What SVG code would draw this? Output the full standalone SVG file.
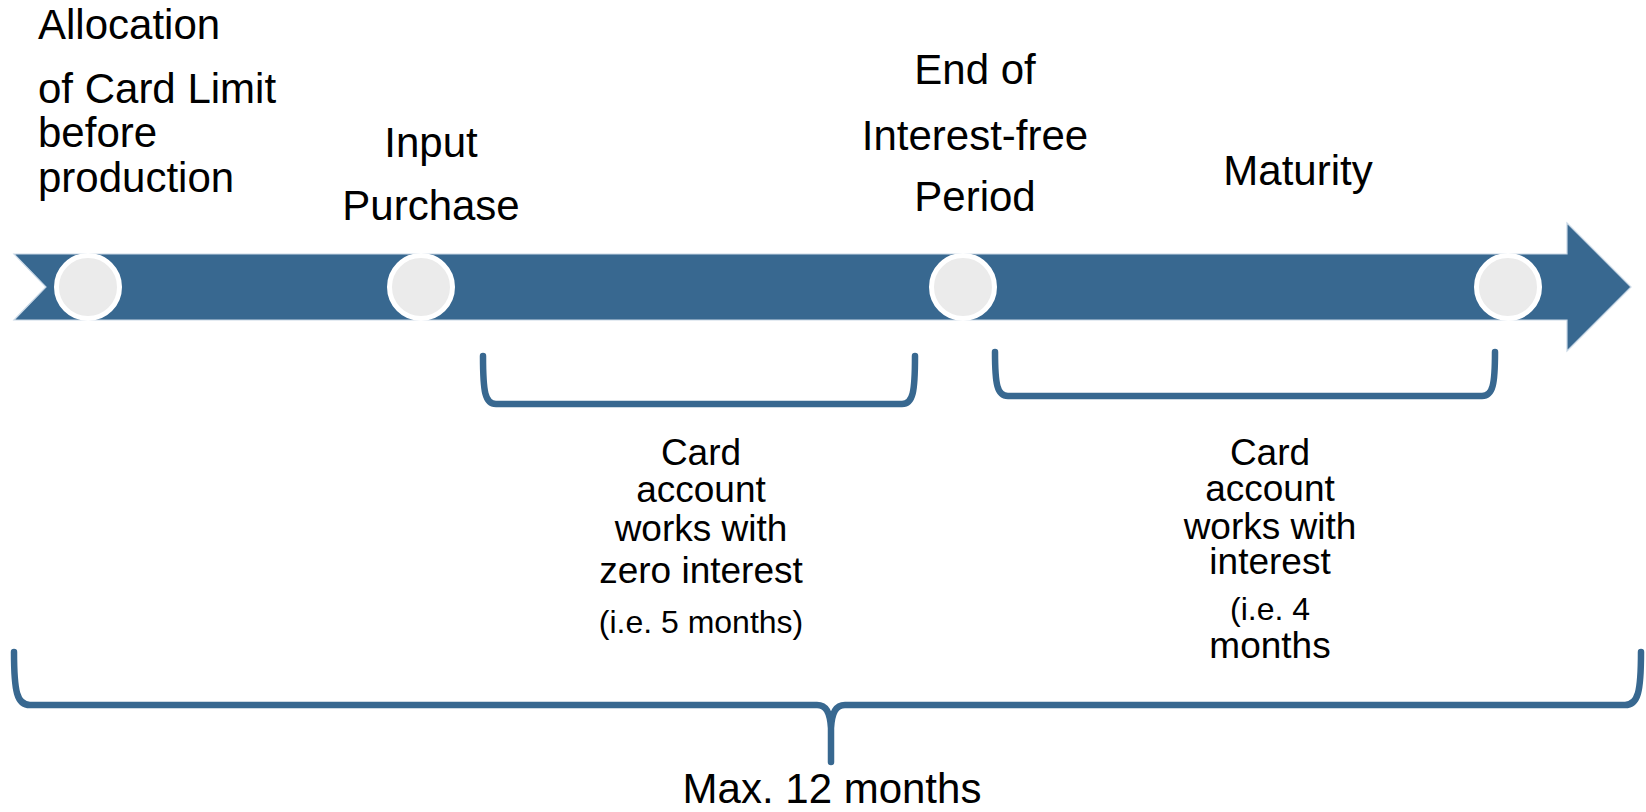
<svg xmlns="http://www.w3.org/2000/svg" width="1646" height="812" viewBox="0 0 1646 812">
<style>
text{font-family:"Liberation Sans",Arial,sans-serif;fill:#000}
.t{font-size:42px}
.b{font-size:37px;text-anchor:middle}
.s{font-size:32px;text-anchor:middle}
.m{text-anchor:middle}
.dot{fill:#EBEBEB;stroke:#FFFFFF;stroke-width:5}
.br{fill:none;stroke:#386890;stroke-width:6.5;stroke-linecap:round;stroke-linejoin:round}
</style>
<rect width="1646" height="812" fill="#FFFFFF"/>
<g id="timeline">
<path d="M14,254 L1567,254 L1567,223 L1631,287 L1567,351 L1567,320 L14,320 L46,287 Z" fill="#386890" stroke="#C9D8E6" stroke-width="1.2"/>
</g>
<g id="node-allocation">
<circle class="dot" cx="88" cy="287" r="31.5"/>
<text class="t" x="38" y="39">Allocation</text>
<text class="t" x="38" y="103">of Card Limit</text>
<text class="t" x="38" y="147">before</text>
<text class="t" x="38" y="192">production</text>
</g>
<g id="node-input">
<circle class="dot" cx="421" cy="287" r="31.5"/>
<text class="t m" x="431" y="157">Input</text>
<text class="t m" x="431" y="220">Purchase</text>
</g>
<g id="node-end">
<circle class="dot" cx="963" cy="287" r="31.5"/>
<text class="t m" x="975" y="84">End of</text>
<text class="t m" x="975" y="150">Interest-free</text>
<text class="t m" x="975" y="211">Period</text>
</g>
<g id="node-maturity">
<circle class="dot" cx="1508" cy="287" r="31.5"/>
<text class="t m" x="1298" y="185">Maturity</text>
</g>
<g id="connectors">
<path class="br" d="M483,356 C483,392 485,404 496,404 L902,404 C913,404 915,392 915,356"/>
<path class="br" d="M995,352 C995,384 997,396 1008,396 L1482,396 C1493,396 1495,384 1495,352"/>
<path class="br" d="M14,652 C14,692 17,705 30,705 L817,705 C826,705 830,712 831,728 L831,762 M831,728 C832,712 836,705 845,705 L1625,705 C1638,705 1641,692 1641,652"/>
</g>
<g id="label-zero">
<text class="b" x="701" y="465">Card</text>
<text class="b" x="701" y="502">account</text>
<text class="b" x="701" y="541">works with</text>
<text class="b" x="701" y="583">zero interest</text>
<text class="s" x="701" y="633">(i.e. 5 months)</text>
</g>
<g id="label-interest">
<text class="b" x="1270" y="465">Card</text>
<text class="b" x="1270" y="501">account</text>
<text class="b" x="1270" y="539">works with</text>
<text class="b" x="1270" y="574">interest</text>
<text class="s" x="1270" y="620">(i.e. 4</text>
<text class="b" x="1270" y="658">months</text>
</g>
<g id="label-max">
<text class="t m" x="832" y="803">Max. 12 months</text>
</g>
</svg>
